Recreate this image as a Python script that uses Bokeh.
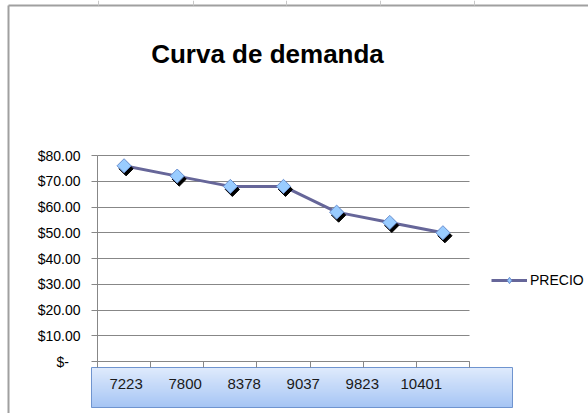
import math
from bokeh.plotting import figure
from bokeh.models import (Range1d, FixedTicker, LinearAxis, Grid, Legend, Label,
                          LegendItem, ColumnDataSource)
from bokeh.embed import file_html
from bokeh.resources import INLINE

# ---- data ----
titulo = "Curva de demanda"
serie = "PRECIO"
cantidad = ["7223", "7800", "8378", "9037", "9823", "10401"]
precio = [76, 72, 68, 68, 58, 54, 50]
y_ticks = [0, 10, 20, 30, 40, 50, 60, 70, 80]
y_labels = ["$-" + "\u00a0" * 3, "$10.00", "$20.00", "$30.00", "$40.00",
            "$50.00", "$60.00", "$70.00", "$80.00"]

FONT = "Liberation Sans"
GRAY = "#878787"

n = len(precio)
src = ColumnDataSource(dict(x=[i + 0.5 for i in range(n)], y=precio))

W, H = 588, 413
# plot-area placement in canvas pixels
PL, PR, PT, PB = 97, 469, 155, 361
kx = (PR - PL) / n
ymin, ymax = y_ticks[0], y_ticks[-1]
ky = (PB - PT) / (ymax - ymin)

def xr(shift=0.0):
    return Range1d(-PL / kx - shift, (W - PL) / kx - shift)

def yr(shift=0.0):
    return Range1d(ymin - (H - PB) / ky + shift, ymin + PB / ky + shift)

p = figure(width=W, height=H, output_backend="svg", toolbar_location=None,
           x_range=xr(), y_range=yr(), x_axis_location=None, y_axis_location=None,
           min_border=0)
p.min_border_left = p.min_border_right = p.min_border_top = p.min_border_bottom = 0
p.outline_line_color = None
p.background_fill_color = "white"
p.border_fill_color = "white"
p.xgrid.visible = False
p.ygrid.visible = False

# helper ranges: pixel space, shadow offsets, label box
p.extra_x_ranges = {"px": Range1d(0, W), "sx": xr(2.0 / kx),
                    "caja": Range1d(-125.6 / 59.05, (W - 125.6) / 59.05)}
p.extra_y_ranges = {"px": Range1d(H, 0), "sy": yr(3.0 / ky)}

# chart-area border (left/top) and sheet marks
p.segment(x0=[8, 8], y0=[5, 5], x1=[8, W], y1=[H, 5], x_range_name="px",
          y_range_name="px", line_color="#a0a0a0", line_width=2)
marks = [98, 193, 286, 380, 474]
p.segment(x0=marks, y0=[0] * 5, x1=marks, y1=[5] * 5, x_range_name="px",
          y_range_name="px", line_color="#c8c8c8", line_width=1)

# title
p.add_layout(Label(x=267, y=53, x_range_name="px", y_range_name="px", text=titulo,
                   text_align="center", text_baseline="alphabetic",
                   text_font=FONT, text_font_size="26px", text_font_style="bold",
                   text_color="black"))

# grid
p.add_layout(Grid(dimension=1, ticker=FixedTicker(ticks=y_ticks),
                  bounds=(ymin, ymax), cross_bounds=(0, n),
                  grid_line_color=GRAY, grid_line_width=1))

# y axis
ya = LinearAxis(fixed_location=0, bounds=(ymin, ymax))
ya.ticker = FixedTicker(ticks=y_ticks)
ya.major_label_overrides = {t: l for t, l in zip(y_ticks, y_labels)}
ya.axis_line_color = GRAY
ya.major_tick_line_color = GRAY
ya.major_tick_out = 6
ya.major_tick_in = 0
ya.minor_tick_line_color = None
ya.major_label_standoff = 11
ya.major_label_text_font = FONT
ya.major_label_text_font_size = "14px"
ya.major_label_text_color = "black"
p.add_layout(ya, "left")

# x axis (category boundaries, no labels)
xa = LinearAxis(fixed_location=ymin, bounds=(0, n))
xa.ticker = FixedTicker(ticks=list(range(n + 1)))
xa.major_label_overrides = {i: "" for i in range(n + 1)}
xa.axis_line_color = GRAY
xa.major_tick_line_color = GRAY
xa.major_tick_out = 6
xa.major_tick_in = 0
xa.minor_tick_line_color = None
p.add_layout(xa, "below")

# label box with gradient
top_c, bot_c = (0xDE, 0xEA, 0xFC), (0xA6, 0xC5, 0xF4)
bx0, bx1, by0, by1 = 91, 512, 367, 407
steps = 20
lefts, rights, tops, bottoms, cols = [], [], [], [], []
for k in range(steps):
    t = k / (steps - 1)
    c = tuple(int(round(a + (b - a) * t)) for a, b in zip(top_c, bot_c))
    lefts.append(bx0); rights.append(bx1)
    tops.append(by0 + (by1 - by0) * k / steps)
    bottoms.append(by0 + (by1 - by0) * (k + 1) / steps + 0.5)
    cols.append("#%02x%02x%02x" % c)
p.quad(left=lefts, right=rights, top=tops, bottom=bottoms, fill_color=cols,
       line_color=None, x_range_name="px", y_range_name="px")
p.quad(left=[bx0], right=[bx1], top=[by0], bottom=[by1], fill_color=None,
       line_color="#6f94cf", line_width=1, x_range_name="px", y_range_name="px")

ca = LinearAxis(x_range_name="caja", fixed_location=ymin - (by0 - PB) / ky)
ca.ticker = FixedTicker(ticks=list(range(len(cantidad))))
ca.major_label_overrides = {i: c for i, c in enumerate(cantidad)}
ca.axis_line_color = None
ca.major_tick_line_color = None
ca.major_tick_out = 0
ca.major_tick_in = 0
ca.minor_tick_line_color = None
ca.major_label_standoff = 11
ca.major_label_text_font = FONT
ca.major_label_text_font_size = "15px"
ca.major_label_text_color = "#1a1a1a"
p.add_layout(ca, "below")

# series
line_r = p.line("x", "y", source=src, line_color="#666699", line_width=3)
p.scatter("x", "y", source=src, marker="square", size=10, angle=math.pi / 4,
          fill_color="black", line_color="black",
          x_range_name="sx", y_range_name="sy")
p.scatter("x", "y", source=src, marker="square", size=10, angle=math.pi / 4,
          fill_color="#99ccff", line_color="#6a8fd0", line_width=1)
# legend-only marker (diamond), hidden in the plot
leg_mark = p.scatter("x", "y", source=src, marker="diamond", size=10,
                     fill_color="#99ccff", line_color="#6a8fd0", line_width=1,
                     visible=False)

legend = Legend(items=[LegendItem(label=serie, renderers=[line_r, leg_mark])],
                location=(491, H - 287.5), padding=0, margin=0, spacing=0,
                border_line_color=None, background_fill_alpha=0,
                glyph_width=36, glyph_height=16, label_height=16, label_standoff=3,
                label_text_font=FONT, label_text_font_size="14px",
                label_text_color="black")
p.add_layout(legend)

open("out.html", "w").write(file_html(p, INLINE))
